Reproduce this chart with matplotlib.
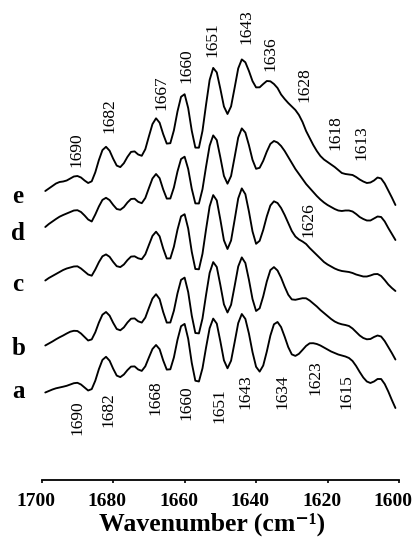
import numpy as np
import matplotlib
matplotlib.use("Agg")
import matplotlib.pyplot as plt
from matplotlib.transforms import ScaledTranslation

# ---------------------------------------------------------------------------
# Amide I region, deconvolved spectra (a.u.), sampled every 1 cm-1
# from 1699 down to 1601 cm-1
# ---------------------------------------------------------------------------
wavenumber = np.arange(1699, 1600, -1)

spec_a = [0.015, 0.03, 0.045, 0.057, 0.065, 0.073, 0.082, 0.095, 0.108, 0.112,
          0.095, 0.065, 0.035, 0.049, 0.133, 0.248, 0.341, 0.372, 0.333, 0.253,
          0.184, 0.169, 0.195, 0.239, 0.274, 0.276, 0.245, 0.231, 0.277, 0.365,
          0.45, 0.49, 0.448, 0.336, 0.244, 0.247, 0.366, 0.541, 0.678, 0.701,
          0.552, 0.311, 0.133, 0.125, 0.257, 0.465, 0.658, 0.754, 0.704, 0.527,
          0.337, 0.257, 0.333, 0.518, 0.709, 0.80, 0.751, 0.604, 0.419, 0.272,
          0.224, 0.285, 0.424, 0.584, 0.697, 0.72, 0.669, 0.573, 0.469, 0.396,
          0.381, 0.402, 0.441, 0.481, 0.507, 0.508, 0.50, 0.485, 0.465, 0.445,
          0.425, 0.41, 0.395, 0.385, 0.375, 0.36, 0.33, 0.28, 0.22, 0.165,
          0.125, 0.11, 0.125, 0.15, 0.15, 0.10, 0.025, -0.06, -0.14]

spec_b = [0.015, 0.035, 0.055, 0.077, 0.097, 0.115, 0.135, 0.153, 0.162, 0.16,
          0.135, 0.10, 0.065, 0.076, 0.147, 0.244, 0.323, 0.35, 0.314, 0.242,
          0.18, 0.167, 0.196, 0.245, 0.283, 0.286, 0.257, 0.244, 0.294, 0.391,
          0.484, 0.528, 0.479, 0.35, 0.244, 0.245, 0.363, 0.536, 0.671, 0.694,
          0.549, 0.314, 0.14, 0.136, 0.285, 0.521, 0.741, 0.849, 0.80, 0.62,
          0.427, 0.345, 0.422, 0.61, 0.805, 0.896, 0.84, 0.672, 0.48, 0.36,
          0.387, 0.507, 0.655, 0.769, 0.799, 0.765, 0.693, 0.603, 0.523, 0.476,
          0.472, 0.48, 0.488, 0.487, 0.465, 0.435, 0.405, 0.37, 0.34, 0.31,
          0.28, 0.255, 0.238, 0.227, 0.22, 0.21, 0.185, 0.15, 0.115, 0.09,
          0.077, 0.08, 0.10, 0.115, 0.105, 0.06, 0.0, -0.06, -0.125]

spec_c = [0.005, 0.03, 0.05, 0.07, 0.09, 0.11, 0.125, 0.135, 0.145, 0.147,
          0.125, 0.095, 0.065, 0.053, 0.115, 0.188, 0.247, 0.266, 0.242, 0.191,
          0.148, 0.139, 0.165, 0.209, 0.244, 0.247, 0.227, 0.218, 0.267, 0.36,
          0.451, 0.493, 0.447, 0.325, 0.225, 0.226, 0.343, 0.513, 0.646, 0.668,
          0.525, 0.292, 0.12, 0.117, 0.272, 0.517, 0.746, 0.859, 0.806, 0.614,
          0.407, 0.32, 0.405, 0.612, 0.826, 0.926, 0.868, 0.695, 0.496, 0.372,
          0.402, 0.511, 0.646, 0.755, 0.797, 0.78, 0.73, 0.66, 0.58, 0.50,
          0.445, 0.415, 0.395, 0.37, 0.33, 0.295, 0.26, 0.225, 0.19, 0.165,
          0.145, 0.125, 0.11, 0.10, 0.095, 0.09, 0.08, 0.065, 0.055, 0.045,
          0.045, 0.055, 0.068, 0.07, 0.05, 0.01, -0.035, -0.07, -0.10]

spec_d = [0.02, 0.05, 0.075, 0.10, 0.123, 0.14, 0.155, 0.17, 0.185, 0.188,
          0.17, 0.135, 0.095, 0.075, 0.145, 0.225, 0.291, 0.312, 0.289, 0.241,
          0.20, 0.192, 0.219, 0.265, 0.30, 0.303, 0.272, 0.258, 0.31, 0.409,
          0.505, 0.55, 0.508, 0.396, 0.304, 0.305, 0.415, 0.575, 0.70, 0.723,
          0.60, 0.402, 0.256, 0.255, 0.398, 0.623, 0.833, 0.936, 0.889, 0.716,
          0.531, 0.453, 0.53, 0.72, 0.915, 1.006, 0.964, 0.838, 0.692, 0.602,
          0.612, 0.682, 0.774, 0.851, 0.88, 0.865, 0.83, 0.78, 0.72, 0.66,
          0.60, 0.55, 0.50, 0.45, 0.41, 0.37, 0.33, 0.295, 0.265, 0.24,
          0.22, 0.20, 0.185, 0.18, 0.185, 0.185, 0.175, 0.15, 0.12, 0.10,
          0.085, 0.085, 0.105, 0.125, 0.12, 0.075, 0.01, -0.05, -0.11]

spec_e = [0.02, 0.045, 0.07, 0.095, 0.11, 0.115, 0.125, 0.145, 0.165, 0.17,
          0.155, 0.125, 0.10, 0.117, 0.207, 0.329, 0.429, 0.462, 0.423, 0.343,
          0.274, 0.259, 0.298, 0.361, 0.411, 0.416, 0.385, 0.372, 0.438, 0.566,
          0.689, 0.747, 0.703, 0.589, 0.494, 0.498, 0.627, 0.815, 0.962, 0.988,
          0.849, 0.622, 0.454, 0.453, 0.621, 0.884, 1.13, 1.251, 1.206, 1.042,
          0.865, 0.79, 0.866, 1.053, 1.246, 1.336, 1.307, 1.22, 1.119, 1.056,
          1.057, 1.09, 1.12, 1.117, 1.09, 1.05, 0.985, 0.94, 0.90, 0.865,
          0.83, 0.78, 0.71, 0.62, 0.55, 0.48, 0.42, 0.37, 0.335, 0.31,
          0.285, 0.26, 0.23, 0.20, 0.19, 0.185, 0.18, 0.16, 0.135, 0.115,
          0.10, 0.105, 0.125, 0.155, 0.145, 0.095, 0.025, -0.045, -0.12]

trace_names = ["a", "b", "c", "d", "e"]
spectra = [spec_a, spec_b, spec_c, spec_d, spec_e]

# band assignments marked on the top trace (e), on trace c and on trace a
bands_e = [1690, 1682, 1667, 1660, 1651, 1643, 1636, 1628, 1618, 1613]
bands_c = [1626]
bands_a = [1690, 1682, 1668, 1660, 1651, 1643, 1634, 1623, 1615]

tick_values = [1700, 1680, 1660, 1640, 1620, 1600]
tick_labels = ["1700", "1680", "1660", "1640", "1620", "1600"]

# ---------------------------------------------------------------------------
# layout
# ---------------------------------------------------------------------------
plt.rcParams["font.family"] = ["Liberation Serif", "DejaVu Serif"]

W, H = 417, 548
fig = plt.figure(figsize=(W / 100, H / 100), dpi=100)
ax = fig.add_axes([41.7 / W, 68 / H, 357.3 / W, 480 / H])
ax.set_xlim(1700, 1600)
ax.set_ylim(0, 480)

scale = 100.0                       # vertical units per absorbance unit
offsets = [86, 133, 199, 251, 287]  # stacking offset of each trace
letter_y = [81.7, 125, 189.3, 240, 276.7]

for name, spec, off, ly in zip(trace_names, spectra, offsets, letter_y):
    ax.plot(wavenumber, off + scale * np.asarray(spec), color="black",
            lw=1.35, solid_joinstyle="round", solid_capstyle="round")
    ax.text(1706.6, ly, name, ha="center", va="baseline", fontsize=18,
            fontweight="bold", clip_on=False)

label_kw = dict(rotation=90, fontsize=12.5, ha="center", clip_on=False)

# label anchors: (x position, y of the label end nearest the trace)
pos_e = [(1690.2, 313.3), (1681.0, 346.7), (1666.4, 370.0), (1659.4, 396.7),
         (1652.1, 423.3), (1642.6, 435.7), (1635.9, 409.3), (1626.6, 378.3),
         (1617.9, 330.0), (1610.6, 320.0)]
pos_c = [(1625.3, 243.3)]
pos_a = [(1689.9, 80.0), (1681.2, 87.3), (1668.3, 100.0), (1659.4, 94.3),
         (1650.2, 91.7), (1643.1, 106.0), (1632.7, 106.0), (1623.4, 119.3),
         (1614.6, 106.0)]

for band, (x, y) in zip(bands_e + bands_c, pos_e + pos_c):
    ax.text(x, y, str(band), va="bottom", **label_kw)
for band, (x, y) in zip(bands_a, pos_a):
    ax.text(x, y, str(band), va="top", **label_kw)

# axes styling: only the wavenumber axis is shown
for side in ("left", "right", "top"):
    ax.spines[side].set_visible(False)
ax.spines["bottom"].set_linewidth(1.3)
ax.set_yticks([])
ax.set_xticks(tick_values)
ax.set_xticklabels(tick_labels, fontsize=14, fontweight="bold")
ax.tick_params(axis="x", direction="out", length=2.2, width=1.2, pad=7.4)
shift = ScaledTranslation(-6 / 100, 0, fig.dpi_scale_trans)
for lab in ax.get_xticklabels():
    lab.set_transform(lab.get_transform() + shift)

ax.set_xlabel("Wavenumber (cm\u207b\u00b9)", fontsize=18.5, fontweight="bold")
ax.xaxis.set_label_coords((211.7 - 41.7) / 357.3, -(531 - 480) / 480)
ax.xaxis.label.set_va("baseline")

fig.savefig("out.png", dpi=100)
